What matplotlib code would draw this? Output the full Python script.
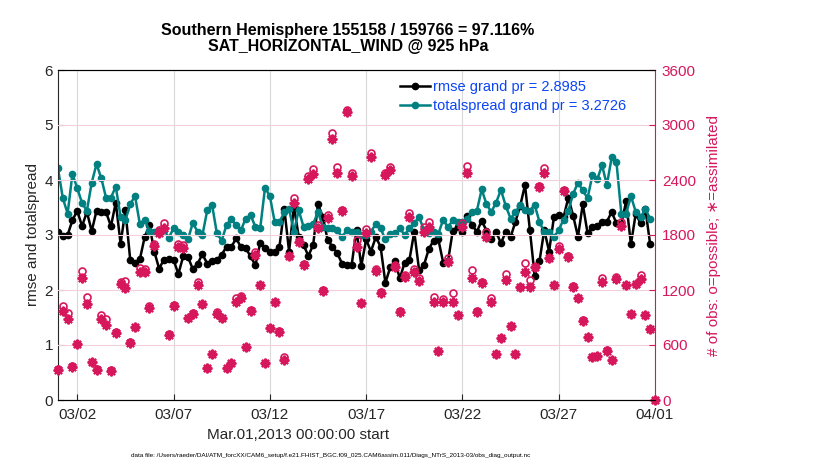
"""Observation-space diagnostics: rmse / totalspread and obs counts over time."""
import numpy as np
import pandas as pd
import matplotlib

matplotlib.use("Agg")
import matplotlib.pyplot as plt

plt.rcParams["font.family"] = ["Liberation Sans", "DejaVu Sans"]

# 6-hourly values, 03/01 00Z .. 04/01 00Z (last bin has no rmse/spread)
rmse = [
    3.06, 2.98, 3.00, 3.27, 3.44, 3.16, 3.42, 3.07, 3.44, 3.41,
    3.41, 3.16, 3.59, 2.84, 3.45, 2.55, 2.50, 2.56, 2.96, 3.18,
    2.70, 2.39, 2.55, 2.56, 2.55, 2.29, 2.61, 2.60, 2.38, 2.48,
    2.65, 2.48, 2.52, 2.55, 2.64, 2.79, 2.78, 2.94, 2.78, 2.76,
    2.61, 2.45, 2.86, 2.76, 2.70, 2.70, 2.79, 3.48, 2.70, 3.52,
    2.97, 2.82, 2.62, 2.82, 3.56, 3.33, 2.91, 2.79, 2.67, 2.48,
    2.45, 2.46, 3.09, 2.44, 2.92, 2.70, 2.96, 2.79, 2.13, 2.41,
    2.52, 2.21, 2.50, 2.55, 3.06, 2.36, 2.45, 2.74, 2.90, 2.92,
    2.50, 2.52, 3.08, 3.15, 3.06, 3.35, 3.18, 3.06, 3.26, 3.08,
    2.92, 3.06, 2.85, 3.06, 2.96, 3.24, 3.53, 3.91, 3.10, 2.26,
    2.52, 3.09, 2.70, 3.32, 3.36, 3.32, 3.68, 3.35, 2.97, 3.56,
    3.03, 3.14, 3.16, 3.24, 3.24, 3.42, 3.21, 3.20, 3.61, 2.83,
    3.39, 3.21, 3.47, 2.83, np.nan,
]
totalspread = [
    4.21, 3.67, 3.39, 4.11, 3.85, 3.58, 3.44, 3.95, 4.29, 4.03,
    3.67, 3.68, 3.88, 3.33, 3.27, 3.56, 3.71, 3.20, 3.28, 3.07,
    3.05, 3.09, 3.10, 2.95, 3.12, 3.06, 3.00, 2.92, 3.22, 3.06,
    3.00, 3.45, 3.55, 3.03, 2.90, 3.18, 3.29, 3.18, 3.09, 3.30,
    3.36, 3.15, 3.12, 3.86, 3.71, 3.24, 3.24, 3.41, 3.47, 3.06,
    3.45, 3.15, 3.16, 3.20, 3.42, 3.15, 3.12, 3.12, 3.09, 2.96,
    3.09, 3.06, 3.05, 3.00, 3.00, 3.06, 3.20, 3.12, 2.92, 3.02,
    3.03, 3.12, 3.00, 3.12, 3.22, 3.32, 3.10, 3.03, 3.06, 3.02,
    3.28, 3.14, 3.27, 3.24, 3.24, 3.30, 3.42, 3.44, 3.83, 3.56,
    3.42, 3.59, 3.82, 3.53, 3.30, 3.41, 3.55, 3.45, 3.44, 3.55,
    3.24, 3.05, 3.06, 2.96, 3.09, 3.28, 3.44, 3.75, 3.95, 3.81,
    3.67, 4.09, 4.01, 4.27, 3.91, 4.41, 4.32, 3.39, 3.39, 3.71,
    3.42, 3.32, 3.47, 3.30, np.nan,
]
nposs = [
    340, 1029, 945, 370, 615, 1407, 1127, 415, 335, 930,
    880, 325, 740, 1290, 1300, 630, 800, 1440, 1430, 1030,
    1700, 1855, 1934, 715, 1035, 1698, 1695, 895, 945, 1291,
    1050, 350, 505, 963, 895, 350, 405, 1109, 1138, 580,
    980, 1618, 1260, 405, 785, 1070, 750, 473, 1575, 2200,
    1730, 1480, 2440, 2516, 1909, 1200, 2018, 2916, 2538, 2070,
    3164, 2480, 1745, 1060, 1862, 2690, 1425, 1175, 2480, 2545,
    1473, 968, 1364, 2036, 1425, 1327, 1884, 1945, 1127, 540,
    1098, 1545, 1164, 930, 1934, 2553, 1418, 968, 1285, 1836,
    1109, 505, 678, 1371, 812, 505, 1233, 1491, 1309, 1452,
    2330, 2527, 1550, 1260, 1680, 2290, 1570, 1240, 1113, 870,
    688, 470, 485, 1327, 542, 440, 1338, 1945, 1260, 942,
    1270, 1364, 930, 775, 0,
]
nused = [
    327, 971, 880, 364, 611, 1327, 1047, 411, 331, 880,
    818, 320, 735, 1262, 1225, 625, 793, 1400, 1400, 1000,
    1675, 1818, 1873, 709, 1029, 1665, 1658, 891, 938, 1255,
    1047, 345, 502, 935, 891, 345, 400, 1073, 1109, 575,
    974, 1582, 1255, 400, 782, 1066, 745, 436, 1571, 2145,
    1727, 1473, 2407, 2465, 1873, 1193, 1982, 2844, 2480, 2065,
    3145, 2444, 1673, 1055, 1825, 2647, 1411, 1171, 2460, 2509,
    1455, 963, 1338, 2000, 1400, 1302, 1836, 1884, 1073, 535,
    1073, 1509, 1073, 927, 1884, 2480, 1327, 963, 1280, 1775,
    1073, 502, 673, 1309, 807, 502, 1229, 1400, 1236, 1447,
    2327, 2473, 1545, 1255, 1644, 2284, 1564, 1236, 1109, 865,
    684, 465, 480, 1291, 538, 436, 1316, 1898, 1255, 938,
    1265, 1316, 927, 771, 0,
]
tick_labels = ["03/02", "03/07", "03/12", "03/17", "03/22", "03/27", "04/01"]

times = pd.date_range("2013-03-01", periods=len(rmse), freq="6h")
ticks = pd.date_range("2013-03-02", periods=len(tick_labels), freq="5D")

magenta = "#d6175c"
teal = "#008080"

fig = plt.figure(figsize=(8.3, 4.7), dpi=100)
ax = fig.add_axes([58 / 830, 70 / 470, 597 / 830, 330 / 470])
ax2 = ax.twinx()

ax.plot(times, rmse, "-o", color="black", lw=1.8, ms=4.5, label="rmse grand pr = 2.8985")
ax.plot(times, totalspread, "-o", color=teal, lw=1.8, ms=4.5,
        label="totalspread grand pr = 3.2726")

ax2.plot(times, nposs, "o", mfc="none", mec=magenta, mew=1.2, ms=5, clip_on=False)
ax2.plot(times, nused, ls="none", marker=(8, 2, 0), color=magenta, mew=1.5, ms=7,
         clip_on=False)

ax.set_xlim(pd.Timestamp("2013-03-01"), pd.Timestamp("2013-04-01"))
ax.set_ylim(0, 6)
ax2.set_ylim(0, 3600)
ax.set_yticks(range(0, 7))
ax2.set_yticks(range(0, 3601, 600))
ax.set_xticks(ticks)
ax.set_xticklabels(tick_labels)

ax.grid(axis="x", color="#d9d9d9", lw=0.8)
ax2.grid(axis="y", color="#f3cfdc", lw=0.8)
ax.set_axisbelow(True)
ax2.set_axisbelow(True)

ax.tick_params(direction="in", labelsize=11, colors="#262626", length=4)
ax.tick_params(axis="x", pad=6)
ax2.tick_params(direction="in", labelsize=11, colors=magenta, length=4, pad=5)
for side in ["left", "bottom", "top"]:
    ax.spines[side].set_color("#262626")
ax2.spines["right"].set_color(magenta)
ax2.spines["left"].set_visible(False)
ax.spines["right"].set_visible(False)

ax.set_ylabel("rmse and totalspread", fontsize=11, color="#262626", labelpad=3)
ax2.set_ylabel("# of obs: o=possible; \u2217=assimilated", fontsize=11, color=magenta,
               labelpad=8)

ax.legend(loc="upper left", bbox_to_anchor=(0.555, 1.0), frameon=False,
          fontsize=10.5, labelcolor="#0b45f5", handlelength=2.1,
          handletextpad=0.2, labelspacing=0.35, borderaxespad=0.3)

fig.text(0.419, 1 - 38.5 / 470, "Southern Hemisphere 155158 / 159766 = 97.116%\n"
         "SAT_HORIZONTAL_WIND @ 925 hPa", ha="center", va="center",
         fontsize=11.5, fontweight="bold", linespacing=1.1)
fig.text(298 / 830, 1 - 435 / 470, "Mar.01,2013 00:00:00 start", ha="center",
         va="center", fontsize=11, color="#262626")
fig.text(331 / 830, 1 - 456 / 470,
         "data file: /Users/raeder/DAI/ATM_forcXX/CAM6_setup/"
         "f.e21.FHIST_BGC.f09_025.CAM6assim.011/Diags_NTrS_2013-03/obs_diag_output.nc",
         ha="center", va="center", fontsize=4.6)

fig.savefig("out.png", dpi=100)
